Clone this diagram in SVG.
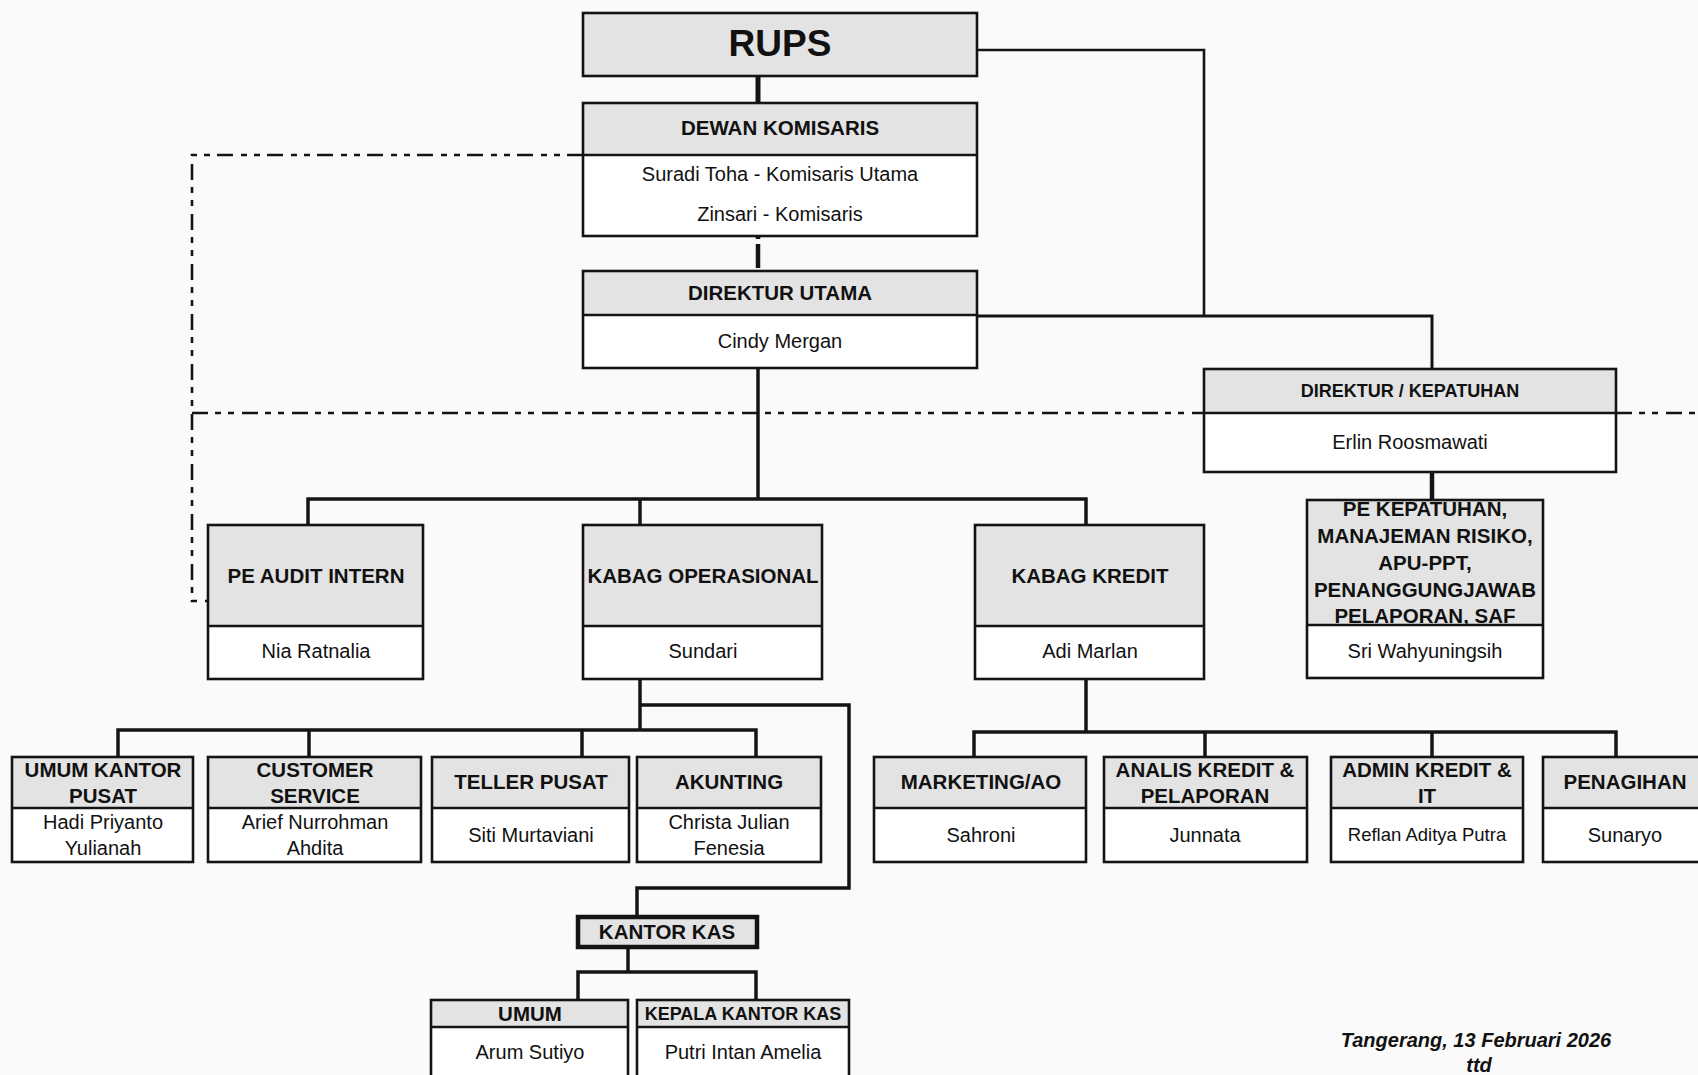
<svg xmlns="http://www.w3.org/2000/svg" width="1698" height="1075" viewBox="0 0 1698 1075">
<style>
.bg{fill:#fafafa}
.body{fill:#ffffff}
.hdr{fill:#e3e3e3}
.frame{fill:none;stroke:#141414;stroke-width:2.6}
.div{stroke:#141414;stroke-width:2.6}
.conn{fill:none;stroke:#141414;stroke-width:3.5;stroke-linejoin:miter}
.thin{fill:none;stroke:#141414;stroke-width:2.6}
.dd{fill:none;stroke:#141414;stroke-width:2.6;stroke-dasharray:16 7 6 7 6 8}
.b{font-family:"Liberation Sans",Arial,sans-serif;font-weight:bold;font-size:20.5px;fill:#111;text-anchor:middle}
.r{font-family:"Liberation Sans",Arial,sans-serif;font-size:20px;fill:#111;text-anchor:middle}
.bs{font-size:18px}
.foot{font-family:"Liberation Sans",Arial,sans-serif;font-weight:bold;font-style:italic;font-size:20px;fill:#111;text-anchor:middle}
</style>
<rect class="bg" x="0" y="0" width="1698" height="1075"/>

<g id="connectors">
  <path class="conn" d="M758 76 V103" style="stroke-width:5"/>
  <path class="conn" d="M758 236 V271" style="stroke-width:4.5;stroke-dasharray:3 5 24 10"/>
  <path class="thin" d="M977 50 H1204 V316"/>
  <path class="conn" d="M977 316 H1432 V369" style="stroke-width:3"/>
  <path class="conn" d="M1432 472 V500" style="stroke-width:4.5"/>
  <path class="conn" d="M758 368 V499"/>
  <path class="conn" d="M308 525 V499 H1086 V525"/>
  <path class="conn" d="M640 499 V525"/>
  <path class="conn" d="M640 679 V730"/>
  <path class="conn" d="M118 757 V730 H756 V757"/>
  <path class="conn" d="M309 730 V757"/>
  <path class="conn" d="M582 730 V757"/>
  <path class="conn" d="M640 705 H849 V888 H637 V917"/>
  <path class="conn" d="M628 947 V972"/>
  <path class="conn" d="M578 1000 V972 H756 V1000"/>
  <path class="conn" d="M1086 679 V732"/>
  <path class="conn" d="M974 757 V732 H1616 V757"/>
  <path class="conn" d="M1205 732 V757"/>
  <path class="conn" d="M1432 732 V757"/>
  <path class="dd" d="M583 155 H192 V601 H208"/>
  <path class="dd" d="M192 413 H1204"/>
  <path class="dd" d="M1616 413 H1698"/>
</g>

<g id="n-rups">
  <rect class="hdr" x="583" y="13" width="394" height="63"/>
  <text class="b" x="780" y="56" style="font-size:37px">RUPS</text>
  <rect class="frame" x="583" y="13" width="394" height="63"/>
</g>

<g id="n-dewan">
  <rect class="body" x="583" y="103" width="394" height="133"/>
  <rect class="hdr" x="583" y="103" width="394" height="52"/>
  <text class="b" x="780" y="135">DEWAN KOMISARIS</text>
  <text class="r" x="780" y="181">Suradi Toha - Komisaris Utama</text>
  <text class="r" x="780" y="221">Zinsari - Komisaris</text>
  <line class="div" x1="583" y1="155" x2="977" y2="155"/>
  <rect class="frame" x="583" y="103" width="394" height="133"/>
</g>

<g id="n-dirut">
  <rect class="body" x="583" y="271" width="394" height="97"/>
  <rect class="hdr" x="583" y="271" width="394" height="44"/>
  <text class="b" x="780" y="300">DIREKTUR UTAMA</text>
  <text class="r" x="780" y="348">Cindy Mergan</text>
  <line class="div" x1="583" y1="315" x2="977" y2="315"/>
  <rect class="frame" x="583" y="271" width="394" height="97"/>
</g>

<g id="n-dirkep">
  <rect class="body" x="1204" y="369" width="412" height="103"/>
  <rect class="hdr" x="1204" y="369" width="412" height="44"/>
  <text class="b bs" x="1410" y="397">DIREKTUR / KEPATUHAN</text>
  <text class="r" x="1410" y="449">Erlin Roosmawati</text>
  <line class="div" x1="1204" y1="413" x2="1616" y2="413"/>
  <rect class="frame" x="1204" y="369" width="412" height="103"/>
</g>

<g id="n-pekep">
  <rect class="body" x="1307" y="500" width="236" height="178"/>
  <rect class="hdr" x="1307" y="500" width="236" height="125"/>
  <text class="b" x="1425" y="516">PE KEPATUHAN,</text>
  <text class="b" x="1425" y="543">MANAJEMAN RISIKO,</text>
  <text class="b" x="1425" y="570">APU-PPT,</text>
  <text class="b" x="1425" y="597">PENANGGUNGJAWAB</text>
  <text class="b" x="1425" y="623">PELAPORAN, SAF</text>
  <text class="r" x="1425" y="658">Sri Wahyuningsih</text>
  <line class="div" x1="1307" y1="625" x2="1543" y2="625"/>
  <rect class="frame" x="1307" y="500" width="236" height="178"/>
</g>

<g id="n-audit">
  <rect class="body" x="208" y="525" width="215" height="154"/>
  <rect class="hdr" x="208" y="525" width="215" height="101"/>
  <text class="b" x="316" y="583">PE AUDIT INTERN</text>
  <text class="r" x="316" y="658">Nia Ratnalia</text>
  <line class="div" x1="208" y1="626" x2="423" y2="626"/>
  <rect class="frame" x="208" y="525" width="215" height="154"/>
</g>

<g id="n-kabag-ops">
  <rect class="body" x="583" y="525" width="239" height="154"/>
  <rect class="hdr" x="583" y="525" width="239" height="101"/>
  <text class="b" x="703" y="583">KABAG OPERASIONAL</text>
  <text class="r" x="703" y="658">Sundari</text>
  <line class="div" x1="583" y1="626" x2="822" y2="626"/>
  <rect class="frame" x="583" y="525" width="239" height="154"/>
</g>

<g id="n-kabag-kredit">
  <rect class="body" x="975" y="525" width="229" height="154"/>
  <rect class="hdr" x="975" y="525" width="229" height="101"/>
  <text class="b" x="1090" y="583">KABAG KREDIT</text>
  <text class="r" x="1090" y="658">Adi Marlan</text>
  <line class="div" x1="975" y1="626" x2="1204" y2="626"/>
  <rect class="frame" x="975" y="525" width="229" height="154"/>
</g>

<g id="n-umum-pusat">
  <rect class="body" x="12" y="757" width="181" height="105"/>
  <rect class="hdr" x="12" y="757" width="181" height="51"/>
  <text class="b" x="103" y="777">UMUM KANTOR</text>
  <text class="b" x="103" y="803">PUSAT</text>
  <text class="r" x="103" y="829">Hadi Priyanto</text>
  <text class="r" x="103" y="855">Yulianah</text>
  <line class="div" x1="12" y1="808" x2="193" y2="808"/>
  <rect class="frame" x="12" y="757" width="181" height="105"/>
</g>

<g id="n-cs">
  <rect class="body" x="208" y="757" width="213" height="105"/>
  <rect class="hdr" x="208" y="757" width="213" height="51"/>
  <text class="b" x="315" y="777">CUSTOMER</text>
  <text class="b" x="315" y="803">SERVICE</text>
  <text class="r" x="315" y="829">Arief Nurrohman</text>
  <text class="r" x="315" y="855">Ahdita</text>
  <line class="div" x1="208" y1="808" x2="421" y2="808"/>
  <rect class="frame" x="208" y="757" width="213" height="105"/>
</g>

<g id="n-teller">
  <rect class="body" x="432" y="757" width="197" height="105"/>
  <rect class="hdr" x="432" y="757" width="197" height="51"/>
  <text class="b" x="531" y="789">TELLER PUSAT</text>
  <text class="r" x="531" y="842">Siti Murtaviani</text>
  <line class="div" x1="432" y1="808" x2="629" y2="808"/>
  <rect class="frame" x="432" y="757" width="197" height="105"/>
</g>

<g id="n-akunting">
  <rect class="body" x="637" y="757" width="184" height="105"/>
  <rect class="hdr" x="637" y="757" width="184" height="51"/>
  <text class="b" x="729" y="789">AKUNTING</text>
  <text class="r" x="729" y="829">Christa Julian</text>
  <text class="r" x="729" y="855">Fenesia</text>
  <line class="div" x1="637" y1="808" x2="821" y2="808"/>
  <rect class="frame" x="637" y="757" width="184" height="105"/>
</g>

<g id="n-marketing">
  <rect class="body" x="874" y="757" width="212" height="105"/>
  <rect class="hdr" x="874" y="757" width="212" height="51"/>
  <text class="b" x="981" y="789">MARKETING/AO</text>
  <text class="r" x="981" y="842">Sahroni</text>
  <line class="div" x1="874" y1="808" x2="1086" y2="808"/>
  <rect class="frame" x="874" y="757" width="212" height="105"/>
</g>

<g id="n-analis">
  <rect class="body" x="1104" y="757" width="203" height="105"/>
  <rect class="hdr" x="1104" y="757" width="203" height="51"/>
  <text class="b" x="1205" y="777">ANALIS KREDIT &amp;</text>
  <text class="b" x="1205" y="803">PELAPORAN</text>
  <text class="r" x="1205" y="842">Junnata</text>
  <line class="div" x1="1104" y1="808" x2="1307" y2="808"/>
  <rect class="frame" x="1104" y="757" width="203" height="105"/>
</g>

<g id="n-admin">
  <rect class="body" x="1331" y="757" width="192" height="105"/>
  <rect class="hdr" x="1331" y="757" width="192" height="51"/>
  <text class="b" x="1427" y="777">ADMIN KREDIT &amp;</text>
  <text class="b" x="1427" y="803">IT</text>
  <text class="r" x="1427" y="841" style="font-size:18.5px">Reflan Aditya Putra</text>
  <line class="div" x1="1331" y1="808" x2="1523" y2="808"/>
  <rect class="frame" x="1331" y="757" width="192" height="105"/>
</g>

<g id="n-penagihan">
  <rect class="body" x="1543" y="757" width="165" height="105"/>
  <rect class="hdr" x="1543" y="757" width="165" height="51"/>
  <text class="b" x="1625" y="789">PENAGIHAN</text>
  <text class="r" x="1625" y="842">Sunaryo</text>
  <line class="div" x1="1543" y1="808" x2="1708" y2="808"/>
  <rect class="frame" x="1543" y="757" width="165" height="105"/>
</g>

<g id="n-kantor-kas">
  <rect class="hdr" x="578" y="917" width="179" height="30"/>
  <text class="b" x="667" y="939">KANTOR KAS</text>
  <rect class="frame" x="578" y="917" width="179" height="30" style="stroke-width:4.5"/>
</g>

<g id="n-umum-kas">
  <rect class="body" x="431" y="1000" width="197" height="85"/>
  <rect class="hdr" x="431" y="1000" width="197" height="27"/>
  <text class="b" x="530" y="1021">UMUM</text>
  <text class="r" x="530" y="1059">Arum Sutiyo</text>
  <line class="div" x1="431" y1="1027" x2="628" y2="1027"/>
  <rect class="frame" x="431" y="1000" width="197" height="85"/>
</g>

<g id="n-kepala-kas">
  <rect class="body" x="637" y="1000" width="212" height="85"/>
  <rect class="hdr" x="637" y="1000" width="212" height="27"/>
  <text class="b bs" x="743" y="1020">KEPALA KANTOR KAS</text>
  <text class="r" x="743" y="1059">Putri Intan Amelia</text>
  <line class="div" x1="637" y1="1027" x2="849" y2="1027"/>
  <rect class="frame" x="637" y="1000" width="212" height="85"/>
</g>

<g id="footer">
  <text class="foot" x="1476" y="1047">Tangerang, 13 Februari 2026</text>
  <text class="foot" x="1479" y="1072">ttd</text>
</g>
</svg>
